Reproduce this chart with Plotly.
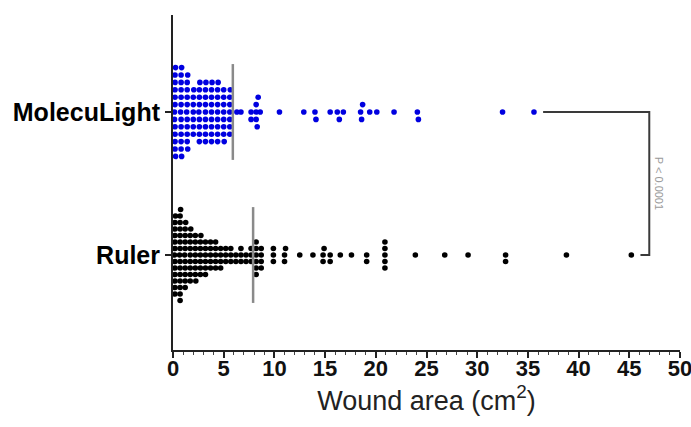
import plotly.graph_objects as go

# ---------------- data ----------------
categories = ["Ruler", "MolecuLight"]

molecu_values = [
    # dense block 0-6
    0.15, 0.2, 0.2, 0.2, 0.2, 0.25, 0.2, 0.2, 0.15, 0.2, 0.25, 0.2, 0.2,
    0.8, 0.8, 0.85, 0.8, 0.8, 0.75, 0.8, 0.8, 0.85, 0.8, 0.8, 0.8, 0.8,
    1.4, 1.4, 1.45, 1.4, 1.4, 1.35, 1.4, 1.4, 1.4, 1.45, 1.4,
    2.0, 2.0, 2.0, 2.05, 2.0, 2.0, 2.0,
    2.6, 2.6, 2.65, 2.6, 2.6, 2.6, 2.6, 2.6, 2.55,
    3.2, 3.2, 3.2, 3.2, 3.25, 3.2, 3.2, 3.2, 3.2,
    3.8, 3.8, 3.8, 3.8, 3.8, 3.85, 3.8, 3.8, 3.8,
    4.4, 4.4, 4.4, 4.45, 4.4, 4.4, 4.4, 4.4, 4.4,
    5.0, 5.0, 5.0, 5.0, 5.05, 5.0, 5.0, 5.0,
    5.6, 5.6, 5.6, 5.65, 5.6, 5.6, 5.6,
    # tail
    6.3, 6.7, 7.7, 7.7, 8.2, 8.2, 8.3, 8.4, 8.2, 8.6,
    10.5, 12.9, 14.0, 14.1, 15.5, 16.2, 16.4, 16.8,
    18.5, 18.6, 18.7, 19.4, 20.1, 21.8, 24.1, 24.2, 32.5, 35.6,
]

ruler_values = [
    # dense block 0-10
    0.2, 0.2, 0.2, 0.15, 0.2, 0.2, 0.25, 0.2, 0.2, 0.2, 0.2, 0.2, 0.2,
    0.7, 0.7, 0.7, 0.7, 0.75, 0.7, 0.7, 0.7, 0.7, 0.65, 0.7, 0.7, 0.7, 0.7, 0.7,
    1.2, 1.2, 1.2, 1.2, 1.25, 1.2, 1.2, 1.2, 1.15, 1.2, 1.2,
    1.7, 1.7, 1.7, 1.7, 1.75, 1.7, 1.7, 1.7, 1.7,
    2.2, 2.2, 2.2, 2.25, 2.2, 2.2, 2.2, 2.2,
    2.7, 2.7, 2.7, 2.7, 2.7, 2.75, 2.7,
    3.2, 3.2, 3.2, 3.2, 3.2, 3.2,
    3.7, 3.7, 3.7, 3.7, 3.7,
    4.2, 4.2, 4.2, 4.2, 4.2,
    4.7, 4.7, 4.7, 4.7,
    5.2, 5.2, 5.2,
    5.7, 5.7, 5.7,
    6.2, 6.2,
    6.7, 6.7, 6.7,
    7.2, 7.2,
    7.7, 7.7, 7.7,
    8.2, 8.2, 8.2, 8.2, 8.2, 8.2,
    8.7, 8.7, 8.7, 8.7,
    9.9, 9.9, 9.9,
    # tail
    11.0, 11.0, 11.1, 12.5, 13.8, 14.8, 14.8, 14.9, 15.5, 15.5, 16.5, 17.6,
    19.1, 19.1, 20.9, 20.9, 20.9, 20.9, 20.9, 23.9, 26.8, 29.1,
    32.8, 32.8, 38.8, 45.2,
]

median_values = [7.9, 5.9]
x_ticks = list(range(0, 51, 5))
p_label = "P < 0.0001"

# ---------------- layout geometry ----------------
W, H = 691, 427
ML, MR, MT, MB = 173, 11, 15, 77
X_RANGE = [0, 50]
Y_RANGE = [-0.664, 1.678]
ppu_x = (W - ML - MR) / (X_RANGE[1] - X_RANGE[0])
ppu_y = (H - MT - MB) / (Y_RANGE[1] - Y_RANGE[0])

DOT = 3.9       # horizontal clearance in px


def swarm_offsets(vals, row_px):
    """Grid-like beeswarm: put each value into the nearest free row."""
    rows = {}
    offs = [0.0] * len(vals)
    order = sorted(range(len(vals)), key=lambda i: vals[i])
    for i in order:
        xp = vals[i] * ppu_x
        step = 0
        chosen = None
        while chosen is None:
            cands = [0] if step == 0 else [-step, step]
            for r in cands:
                if all(abs(xp - q) >= DOT for q in rows.get(r, [])):
                    chosen = r
                    break
            step += 1
        rows.setdefault(chosen, []).append(xp)
        offs[i] = chosen * row_px / ppu_y
    return offs


fig = go.Figure()

series = [
    (ruler_values, 0, "#000000", 6.5),
    (molecu_values, 1, "#0000E0", 7.4),
]
for vals, ypos, color, row_px in series:
    offs = swarm_offsets(vals, row_px)
    fig.add_trace(go.Scatter(
        x=vals,
        y=[ypos + o for o in offs],
        mode="markers",
        marker=dict(size=5.6, color=color, line=dict(width=0)),
        showlegend=False,
        hoverinfo="x",
    ))

# median lines
for ypos, med in enumerate(median_values):
    fig.add_shape(type="line", x0=med, x1=med, y0=ypos - 0.335, y1=ypos + 0.335,
                  xref="x", yref="y", line=dict(color="#8a8a8a", width=2.5),
                  layer="above")

# significance bracket
fig.add_shape(type="path",
              path="M 36.5,1 L 46.97,1 L 46.97,0 L 46.1,0",
              xref="x", yref="y", line=dict(color="#3a3a3a", width=2))
fig.add_annotation(x=48.0, y=0.5, xref="x", yref="y", text=p_label,
                   textangle=90, showarrow=False,
                   font=dict(family="Liberation Sans, Arial", size=11, color="#9a9a9a"))

fig.update_layout(
    width=W, height=H,
    margin=dict(l=ML, r=MR, t=MT, b=MB, pad=0, autoexpand=False),
    paper_bgcolor="white", plot_bgcolor="white",
    font=dict(family="Liberation Sans, Arial", color="#111111"),
    xaxis=dict(
        range=X_RANGE, tickvals=x_ticks, ticktext=[str(t) for t in x_ticks],
        automargin=False, ticklabeloverflow="allow",
        ticklabelstandoff=-8,
        showgrid=False, zeroline=False,
        showline=True, linecolor="#222222", linewidth=2,
        ticks="outside", ticklen=6, tickwidth=1.5, tickcolor="#222222",
        minor=dict(dtick=1, ticks="outside", ticklen=3, tickwidth=1, tickcolor="#444444"),
        tickfont=dict(family="Liberation Sans, Arial", size=22, color="#111111",
                      weight="bold"),
        title=dict(text="Wound area (cm<sup>2</sup>)",
                   font=dict(family="Liberation Sans, Arial", size=27, color="#222222"),
                   standoff=0),
    ),
    yaxis=dict(
        range=Y_RANGE, tickvals=[0, 1], ticktext=categories,
        automargin=False,
        showgrid=False, zeroline=False,
        showline=True, linecolor="#222222", linewidth=2,
        ticks="outside", ticklen=6, tickwidth=1.5, tickcolor="#222222",
        tickfont=dict(family="Liberation Sans, Arial", size=25, color="#000000",
                      weight="bold"),
    ),
)

fig.write_html("out.html",
               config={"displayModeBar": False},
               post_script="document.body.style.margin='0';document.body.style.overflow='hidden';")
